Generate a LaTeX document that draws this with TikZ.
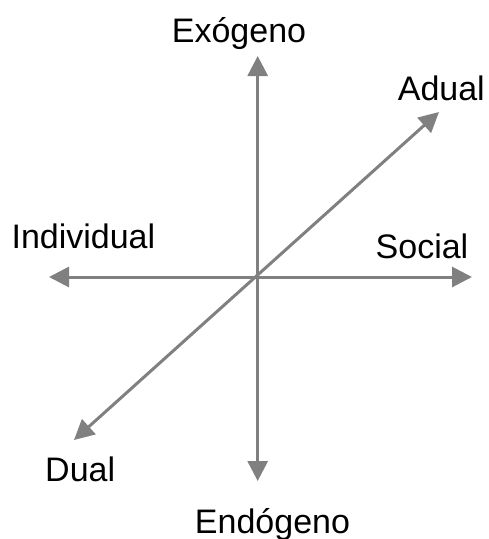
\documentclass[tikz,border=0pt]{standalone}
\usepackage{fontspec}
\setmainfont{Liberation Sans}
\usetikzlibrary{arrows.meta}
\definecolor{axisgray}{RGB}{128,128,128}
\tikzset{
  axis/.style={draw=axisgray, line width=3pt, {Triangle[length=20pt,width=20pt]}-{Triangle[length=20pt,width=20pt]}},
  lbl/.style={anchor=base, inner sep=0pt, font=\fontsize{34}{40}\selectfont}
}
\begin{document}
\begin{tikzpicture}[x=1pt,y=-1pt]
\useasboundingbox (0,0) rectangle (489,539);
\coordinate (top) at (257.7,56);
\coordinate (bot) at (257.7,481);
\coordinate (lft) at (49,277);
\coordinate (rgt) at (472,277);
\coordinate (dl) at (74,440);
\coordinate (ur) at (439,112);
\draw[axis] (top) -- (bot);
\draw[axis] (lft) -- (rgt);
\draw[axis] (dl) -- (ur);
\node[lbl] (exo) at (239,42) {Exógeno};
\node[lbl] (endo) at (272.5,533) {Endógeno};
\node[lbl] (ind) at (83.4,248) {Individual};
\node[lbl] (soc) at (422,258) {Social};
\node[lbl] (adu) at (441.3,100.7) {Adual};
\node[lbl] (dua) at (80.2,481.7) {Dual};
\end{tikzpicture}
\end{document}
